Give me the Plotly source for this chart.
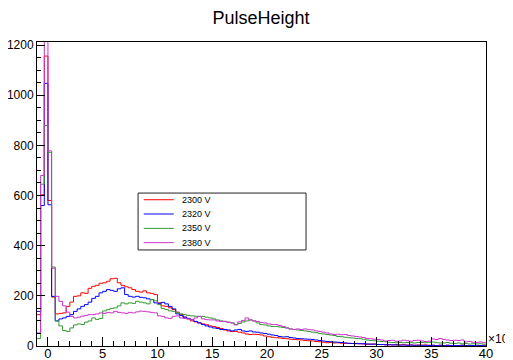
import numpy as np
import plotly.graph_objects as go

# Histogram binning (x in units of 10^6)
bin_low, bin_high, n_bins = -1.0, 40.0, 123

series_names = ["2300 V", "2320 V", "2350 V", "2380 V"]
series_colors = ["#ff0000", "#0000ff", "#339933", "#cc33cc"]

counts_2300 = [
    125, 603, 1156,
    580, 195, 128,  130, 132, 158,  175, 198, 200,  212, 210, 230,  238, 242, 250,
    252, 258, 268,  270, 252, 242,  236, 232, 225,  218, 215, 220,  212, 210, 205,
    172, 160, 158,  152, 145, 135,  125, 115, 108,  100, 96, 92,   88, 85, 80,
    78, 74, 70,     64, 60, 58,     58, 55, 52,     48, 46, 47,    46, 44, 40,
    37, 35, 33,     32, 30, 29,     27, 26, 25,     24, 22, 21,    20, 18, 17,
    15, 13, 14,     12, 13, 11,     11, 10, 10,     9, 9, 8,       7, 8, 7,
    6, 6, 5,        5, 5, 4,        4, 5, 4,        4, 3, 4,       3, 4, 3,
    3, 2, 3,        2, 3, 2,        2, 2, 3,        2, 1, 2,       1, 2, 1,
]
counts_2320 = [
    138, 560, 1047,
    563, 198, 100,  108, 112, 118,  125, 138, 148,  158, 165, 175,  190, 198, 212,
    218, 225, 222,  218, 228, 232,  205, 198, 195,  198, 194, 192,  188, 185, 172,
    170, 174, 168,  158, 148, 128,  122, 115, 110,  105, 98, 92,   86, 80, 76,
    72, 70, 66,     66, 64, 60,     64, 66, 60,     58, 60, 56,    55, 52, 50,
    47, 44, 42,     38, 36, 37,     34, 32, 30,     29, 28, 27,    26, 24, 22,
    20, 18, 17,     16, 15, 14,     12, 11, 10,     10, 9, 9,      8, 7, 8,
    6, 6, 5,        5, 4, 5,        4, 4, 3,        4, 3, 3,       3, 3, 2,
    3, 2, 3,        2, 3, 2,        2, 2, 3,        2, 1, 2,       1, 2, 1,
]
counts_2350 = [
    30, 645, 879,
    772, 315, 100,  80, 62, 58,     72, 84, 88,     86, 95, 100,   112, 106, 110,
    140, 145, 150,  152, 160, 172,  168, 172, 170,  178, 175, 172, 168, 185, 180,
    165, 150, 145,  140, 138, 132,  128, 125, 122,  120, 119, 118, 118, 115, 112,
    108, 104, 100,  98, 95, 92,     86, 90, 96,     100, 104, 100, 92, 86, 84,
    80, 78, 78,     76, 74, 72,     68, 66, 64,     62, 60, 58,    55, 53, 50,
    48, 46, 44,     42, 38, 37,     35, 33, 32,     30, 29, 27,    24, 22, 21,
    19, 18, 17,     15, 14, 13,     14, 13, 14,     13, 12, 14,    14, 13, 15,
    16, 13, 12,     12, 14, 11,     10, 12, 9,      10, 8, 9,      8, 9, 7,
]
counts_2380 = [
    52, 680, 1650,
    778, 310, 198,  178, 160, 135,  118, 112, 115,  119, 122, 125,  125, 128, 132,
    130, 134, 132,  138, 134, 132,  130, 134, 132,  136, 139, 138,  136, 134, 132,
    120, 118, 112,  110, 118, 120,  112, 110, 108,  105, 112, 118,  108, 105, 104,
    104, 100, 98,   98, 94, 92,     84, 96, 102,    112, 104, 100,  98, 94, 92,
    88, 86, 86,     82, 78, 72,     68, 66, 68,     66, 68, 65,    64, 60, 58,
    55, 52, 48,     46, 47, 45,     46, 42, 40,     38, 36, 34,    30, 29, 27,
    26, 24, 20,     22, 23, 19,     20, 23, 21,     19, 22, 23,    20, 18, 19,
    28, 26, 30,     26, 24, 22,     23, 22, 24,     16, 18, 15,    14, 16, 13,
]

all_counts = [counts_2300, counts_2320, counts_2350, counts_2380]

edges = np.linspace(bin_low, bin_high, n_bins + 1)

fig = go.Figure()
for name, color, counts in zip(series_names, series_colors, all_counts):
    y = list(counts) + [counts[-1]]
    fig.add_trace(go.Scatter(
        x=edges, y=y, mode="lines", name=name,
        line=dict(color=color, width=1, shape="hv"),
        showlegend=False, hoverinfo="skip",
    ))

FONT = "Liberation Sans, Arial, Helvetica, sans-serif"

# Manual ROOT-style legend box
lx0, lx1, ly0, ly1 = 0.2251, 0.5992, 0.3159, 0.5031
shapes = [dict(type="rect", xref="paper", yref="paper", x0=lx0, x1=lx1, y0=ly0, y1=ly1,
               line=dict(color="#222222", width=1), fillcolor="white", layer="above")]
annotations = []
entry_y = [0.4811, 0.4342, 0.3869, 0.3399]
for name, color, ey in zip(series_names, series_colors, entry_y):
    shapes.append(dict(type="line", xref="paper", yref="paper", x0=0.2378, x1=0.3047,
                       y0=ey, y1=ey, line=dict(color=color, width=1), layer="above"))
    annotations.append(dict(text=name, xref="paper", yref="paper", x=0.3181, y=ey,
                            xanchor="left", yanchor="middle", showarrow=False,
                            font=dict(family=FONT, size=9, color="black")))

annotations.append(dict(text="×10<sup>6</sup>", xref="paper", yref="paper",
                        x=1.0, y=0.025, xanchor="left", yanchor="middle", xshift=0,
                        showarrow=False, font=dict(family=FONT, size=12, color="black")))

# The page body adds an 8 px offset; margins are set so the plot frame lands
# where the reference has it inside the 513x360 window.
fig.update_layout(
    width=513, height=360,
    margin=dict(l=29, r=35, t=34, b=22, autoexpand=False),
    paper_bgcolor="white", plot_bgcolor="white",
    font=dict(family=FONT, color="black"),
    title=dict(text="PulseHeight", x=0.493, y=0.974, xanchor="center", yanchor="middle",
               xref="container", yref="container",
               font=dict(family=FONT, size=18, color="black")),
    shapes=shapes, annotations=annotations,
    xaxis=dict(range=[bin_low, bin_high], tick0=0, dtick=5, ticks="inside", ticklen=9,
               tickcolor="black", showline=True, linecolor="black", linewidth=1, mirror=True,
               showgrid=False, zeroline=False, tickfont=dict(size=13), automargin=False,
               ticklabelstandoff=-5,
               minor=dict(dtick=1, ticks="inside", ticklen=5, tickcolor="black", showgrid=False)),
    yaxis=dict(range=[0, 1212], tick0=0, dtick=200, ticks="inside", ticklen=8,
               tickcolor="black", showline=True, linecolor="black", linewidth=1, mirror=True,
               showgrid=False, zeroline=False, tickfont=dict(size=12), automargin=False,
               minor=dict(dtick=50, ticks="inside", ticklen=4, tickcolor="black", showgrid=False)),
)

fig.write_html("out.html")
